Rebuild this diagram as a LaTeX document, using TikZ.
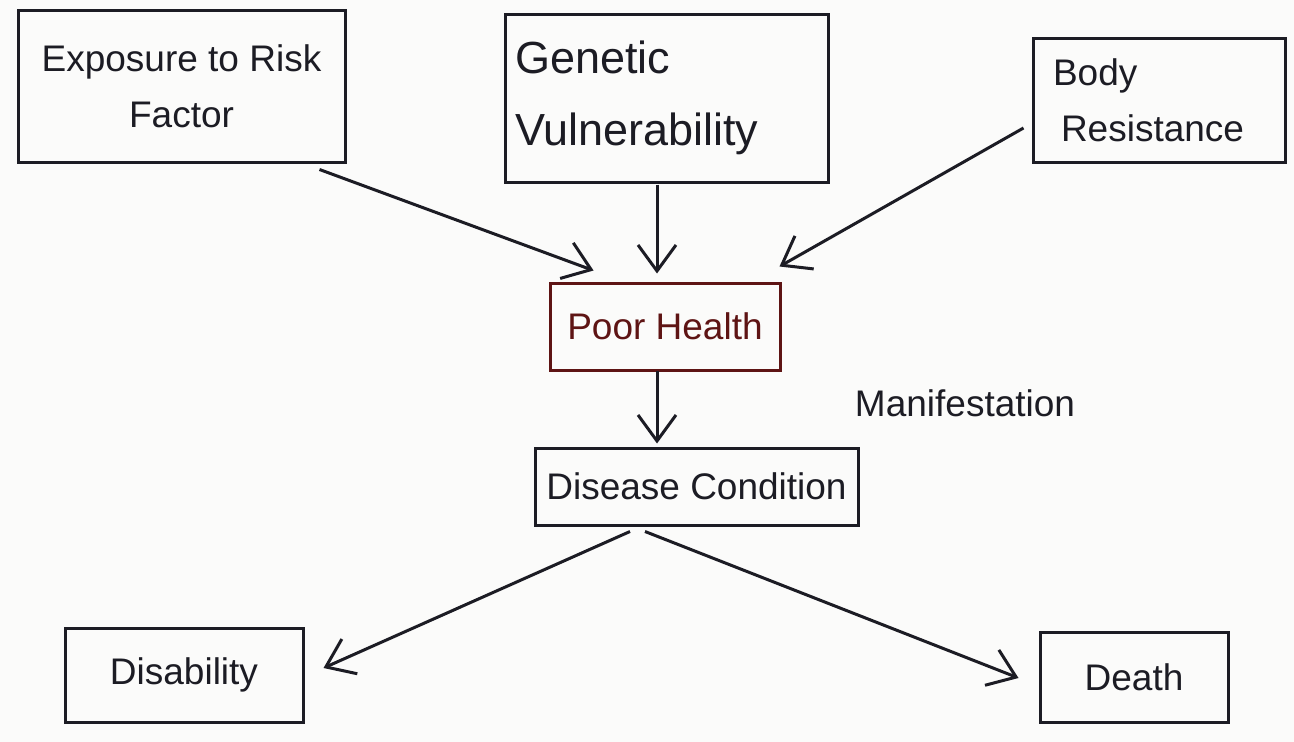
\documentclass[tikz,border=0pt]{standalone}
\usepackage{fontspec}
\setmainfont{Liberation Sans}
\usetikzlibrary{arrows.meta,calc}
\definecolor{ink}{HTML}{1C1C24}
\definecolor{redink}{HTML}{5E1414}
\definecolor{paper}{HTML}{FBFBFA}
\tikzset{
  box/.style={draw=ink, line width=3pt, rectangle, inner sep=0pt, text=ink,
    font=\fontsize{37}{56}\selectfont},
  lbox/.style={box, align=left, inner xsep=10pt},
  conn/.style={draw=ink, line width=3pt,
    -{Straight Barb[length=26pt,width=38pt,line width=3pt]}},
  plain/.style={text=ink, font=\fontsize{37}{56}\selectfont, inner sep=0pt}
}
\begin{document}
\begin{tikzpicture}[x=1pt,y=-1pt]
\fill[paper] (0,0) rectangle (1294,742);
\useasboundingbox (0,0) rectangle (1294,742);
\node[box, align=center, minimum width=327pt, minimum height=152pt] (exp) at (181.5,86) {Exposure to Risk\\Factor};
\node[lbox, font=\fontsize{45}{72}\selectfont, text width=303pt, minimum height=168pt] (gen) at (666.5,98) {Genetic\\Vulnerability};
\node[lbox, inner xsep=20pt, text width=212pt, minimum height=124pt] (body) at (1159,100) {Body\\\hspace*{8pt}Resistance};
\node[box, draw=redink, text=redink, minimum width=230pt, minimum height=87pt] (poor) at (665,326.5) {Poor Health};
\node[box, minimum width=323pt, minimum height=77pt] (dis) at (696.5,486.5) {Disease Condition};
\node[box, minimum width=238pt, minimum height=94pt] (disab) at (184,675) {Disability};
\node[box, minimum width=188pt, minimum height=90pt] (death) at (1134,677) {Death};
\node[plain] (man) at (965,403) {Manifestation};
\draw[conn] ($(exp.south east)+(-27,6)$) -- ($(poor.north west)+(45,-11)$);
\draw[conn] ($(gen.south)+(-9.5,1)$) -- ($(poor.north)+(-8,-8)$);
\draw[conn] ($(body.west)+(-8,28)$) -- ($(poor.north east)+(-2,-15)$);
\draw[conn] ($(poor.south)+(-8,-1)$) -- ($(dis.north)+(-39.5,-3)$);
\draw[conn] ($(dis.south)+(-66.5,5)$) -- ($(disab.east)+(19,-7)$);
\draw[conn] ($(dis.south)+(-51.5,5)$) -- ($(death.west)+(-20,1)$);
\end{tikzpicture}
\end{document}
